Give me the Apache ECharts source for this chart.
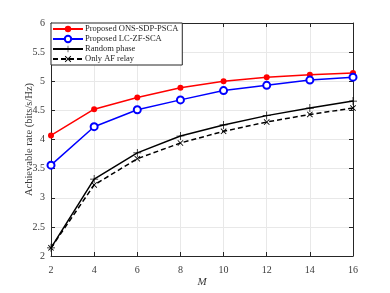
<!DOCTYPE html>
<html><head><meta charset="utf-8">
<script src="https://cdn.jsdelivr.net/npm/echarts@6/dist/echarts.min.js"></script>
<style>html,body{margin:0;padding:0;background:#fff}#c{width:390px;height:293px}</style>
</head><body><div id="c"></div>
<script>
const M = [2, 4, 6, 8, 10, 12, 14, 16];
const onsSdpPsca = [4.07, 4.52, 4.72, 4.89, 5.0, 5.07, 5.11, 5.14];
const lcZfSca = [3.56, 4.22, 4.51, 4.68, 4.84, 4.93, 5.02, 5.07];
const randomPhase = [2.14, 3.32, 3.77, 4.06, 4.25, 4.41, 4.54, 4.66];
const onlyAf = [2.14, 3.22, 3.67, 3.94, 4.14, 4.30, 4.43, 4.54];
const names = ['Proposed ONS-SDP-PSCA', 'Proposed LC-ZF-SCA', 'Random phase', 'Only AF relay'];

const font = 'Liberation Serif, Times New Roman, serif';
const axisCol = '#262626';
const textCol = '#3a3a3a';
const plusPath = 'path://M-0.9,-10 L0.9,-10 L0.9,-0.9 L10,-0.9 L10,0.9 L0.9,0.9 L0.9,10 L-0.9,10 L-0.9,0.9 L-10,0.9 L-10,-0.9 L-0.9,-0.9 Z';
const xPath = 'path://M-10,-8 L-8,-10 L0,-2 L8,-10 L10,-8 L2,0 L10,8 L8,10 L0,2 L-8,10 L-10,8 L-2,0 Z';
const pair = a => M.map((m, i) => [m, a[i]]);

const chart = echarts.init(document.getElementById('c'), null, {renderer: 'canvas'});
const baseAxis = {
  axisLine: {show: true, onZero: false, lineStyle: {color: axisCol, width: 1}},
  axisTick: {show: true, inside: true, length: 4, lineStyle: {color: axisCol}},
  axisLabel: {color: textCol, fontFamily: font, fontSize: 10},
};
chart.setOption({
  animation: false,
  backgroundColor: '#fff',
  grid: {left: 51, right: 37, top: 23, bottom: 32, containLabel: false},
  legend: {
    orient: 'vertical', left: 51, top: 23,
    data: names,
    backgroundColor: '#fff', borderColor: axisCol, borderWidth: 1, borderRadius: 0,
    padding: [1, 4, 1, 1], itemGap: 0, itemWidth: 30, itemHeight: 8,
    textStyle: {fontFamily: font, fontSize: 8.5, lineHeight: 10, color: axisCol, padding: [0, 0, 0, -3]}
  },
  xAxis: [
    Object.assign({}, baseAxis, {type: 'value', min: 2, max: 16, interval: 2, position: 'bottom',
      splitLine: {show: true, lineStyle: {color: '#e8e8e8', width: 1}},
      axisLabel: Object.assign({}, baseAxis.axisLabel, {margin: 9}),
      name: 'M', nameLocation: 'middle', nameGap: 21, nameMoveOverlap: false,
      nameTextStyle: {fontFamily: font, fontStyle: 'italic', fontSize: 11, color: textCol}}),
    Object.assign({}, baseAxis, {type: 'value', min: 2, max: 16, interval: 2, position: 'top',
      axisLabel: {show: false}, splitLine: {show: false}})
  ],
  yAxis: [
    Object.assign({}, baseAxis, {type: 'value', min: 2, max: 6, interval: 0.5, position: 'left',
      splitLine: {show: true, lineStyle: {color: '#e8e8e8', width: 1}},
      axisLabel: Object.assign({}, baseAxis.axisLabel, {margin: 6}),
      name: 'Achievable rate (bits/s/Hz)', nameLocation: 'middle', nameGap: 16, nameMoveOverlap: false,
      nameTextStyle: {fontFamily: font, fontSize: 10.5, color: textCol}}),
    Object.assign({}, baseAxis, {type: 'value', min: 2, max: 6, interval: 0.5, position: 'right',
      axisLabel: {show: false}, splitLine: {show: false}})
  ],
  series: [
    {name: names[0], type: 'line', data: pair(onsSdpPsca), symbol: 'circle', symbolSize: 6,
      lineStyle: {color: '#ff0000', width: 1.5}, itemStyle: {color: '#ff0000'}},
    {name: names[1], type: 'line', data: pair(lcZfSca), symbol: 'emptyCircle', symbolSize: 7,
      lineStyle: {color: '#0000ff', width: 1.5}, itemStyle: {color: '#0000ff', borderWidth: 1.5}},
    {name: names[2], type: 'line', data: pair(randomPhase), symbol: plusPath, symbolSize: 8,
      lineStyle: {color: '#000', width: 1.5}, itemStyle: {color: '#000'}},
    {name: names[3], type: 'line', data: pair(onlyAf), symbol: xPath, symbolSize: 6,
      lineStyle: {color: '#000', width: 1.5, type: [5, 3]}, itemStyle: {color: '#000'}}
  ]
});
</script></body></html>
